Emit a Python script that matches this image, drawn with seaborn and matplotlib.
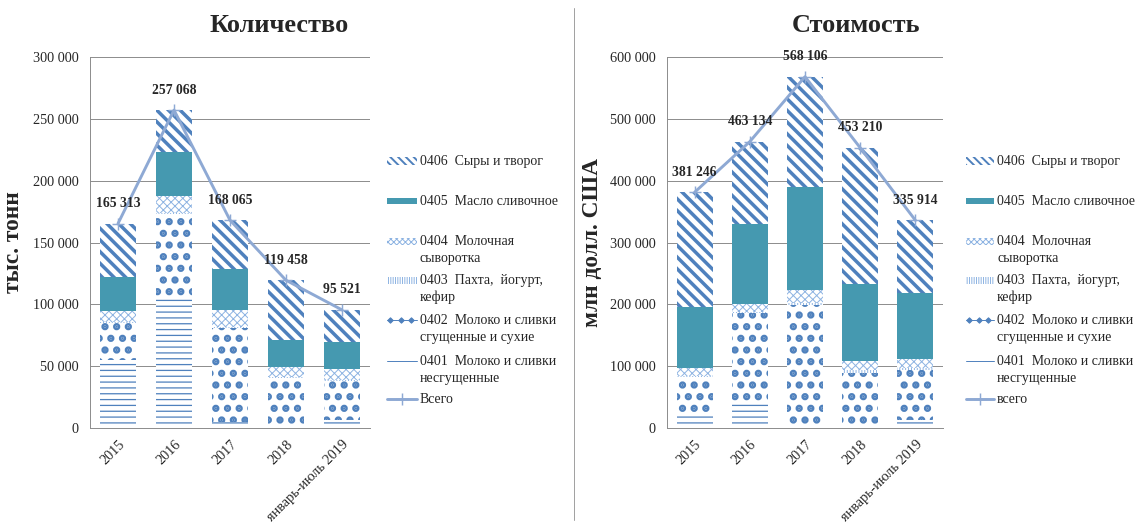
import matplotlib
matplotlib.use("Agg")
import matplotlib.pyplot as plt
import matplotlib as mpl
from matplotlib.patches import Rectangle
from matplotlib.lines import Line2D
from matplotlib.ticker import FuncFormatter, MultipleLocator
import seaborn as sns
import numpy as np

# ---------------- data ----------------
categories = ["2015", "2016", "2017", "2018", "январь-июль 2019"]

# Количество, тыс. тонн
qty_0401 = [54900, 104900, 5000, 1500, 6200]
qty_0402 = [30000, 68000, 76000, 39000, 31500]
qty_0403 = [1000, 1000, 1000, 800, 900]
qty_0404 = [8600, 13500, 13500, 8000, 9000]
qty_0405 = [27800, 35700, 33300, 22100, 22100]
qty_0406 = [43013, 33968, 39265, 48058, 25821]
qty_total = [165313, 257068, 168065, 119458, 95521]

# Стоимость, млн долл. США
val_0401 = [22000, 41400, 5000, 2000, 13400]
val_0402 = [60000, 145000, 194000, 87000, 80400]
val_0403 = [1500, 1800, 2600, 5000, 3000]
val_0404 = [13500, 12300, 21500, 15000, 14700]
val_0405 = [99400, 129000, 166700, 123700, 107500]
val_0406 = [184846, 133634, 178306, 220510, 116914]
val_total = [381246, 463134, 568106, 453210, 335914]

legend_labels_q = ["0406  Сыры и творог", "0405  Масло сливочное",
                   "0404  Молочная\nсыворотка", "0403  Пахта,  йогурт,\nкефир",
                   "0402  Молоко и сливки\nсгущенные и сухие",
                   "0401  Молоко и сливки\nнесгущенные", "Всего"]
legend_labels_v = ["0406  Сыры и творог", "0405  Масло сливочное",
                   "0404  Молочная\nсыворотка", "0403  Пахта,  йогурт,\nкефир",
                   "0402  Молоко и сливки\nсгущенные и сухие",
                   "0401  Молоко и сливки\nнесгущенные", "всего"]

# ---------------- style ----------------
sns.set_style("white")
plt.rcParams["font.family"] = ["Liberation Serif", "DejaVu Serif"]

DPI = 70
W, H = 1136, 523
BLUE = "#4F81BD"
TEAL = "#4599B0"
LIGHT = "#8DB3E2"
LINEC = "#8EA9D4"
GRID = "#8C8C8C"

fig = plt.figure(figsize=(W / DPI, H / DPI), dpi=DPI)


def px_axes(x0, x1, ytop, ybot):
    return fig.add_axes([x0 / W, 1 - ybot / H, (x1 - x0) / W, (ybot - ytop) / H])


layer_styles = [
    # (hatch, facecolor, edgecolor, hatch lw)
    ("--", "white", BLUE, 1.3),       # 0401
    (".", "white", BLUE, 5.0),        # 0402
    ("||||", "white", LIGHT, 1.0),    # 0403
    ("xxx", "white", LIGHT, 1.0),     # 0404
    (None, TEAL, TEAL, 0.0),          # 0405
    ("\\\\", "white", BLUE, 3.6),     # 0406
]


def stacked(ax, layers, totals, ymax, step, width):
    bottom = np.zeros(len(categories))
    for vals, (hatch, fc, ec, hlw) in zip(layers, layer_styles):
        n0 = len(ax.patches)
        with mpl.rc_context({"hatch.linewidth": hlw if hlw else 1.0}):
            sns.barplot(x=categories, y=vals, bottom=bottom, ax=ax, color=fc,
                        saturation=1, edgecolor=ec, linewidth=0, hatch=hatch,
                        width=width, errorbar=None, zorder=2)
        for p in ax.patches[n0:]:
            if hatch and hasattr(p, "set_hatch_linewidth"):
                p.set_hatch_linewidth(hlw)
        bottom = bottom + np.array(vals)
    xs = np.arange(len(categories))
    sns.lineplot(x=xs, y=totals, ax=ax, color=LINEC, lw=3, marker="+",
                 markersize=12, markeredgewidth=1.5, markeredgecolor=LINEC,
                 zorder=4, legend=False)
    for x, v in zip(xs, totals):
        ax.annotate(f"{v:,}".replace(",", " "), (x, v), xytext=(0, 20),
                    textcoords="offset pixels", ha="center", va="center",
                    fontsize=14, fontweight="bold", zorder=5)
    ax.set_xlim(-0.5, len(categories) - 0.5)
    ax.set_ylim(0, ymax)
    ax.yaxis.set_major_locator(MultipleLocator(step))
    ax.yaxis.set_major_formatter(FuncFormatter(lambda v, p: f"{int(v):,}".replace(",", " ")))
    ax.grid(axis="y", color=GRID, lw=1.0, zorder=0)
    ax.set_axisbelow(True)
    for s in ["top", "right"]:
        ax.spines[s].set_visible(False)
    for s in ["left", "bottom"]:
        ax.spines[s].set_color(GRID)
        ax.spines[s].set_linewidth(1.0)
    ax.tick_params(axis="y", labelsize=14.6, length=0, pad=12)
    ax.tick_params(axis="x", labelsize=14.6, length=0, pad=10)
    ax.set_xticks(xs)
    ax.set_xticklabels(categories, rotation=45, ha="right", rotation_mode="anchor")
    ax.set_xlabel("")


def legend(x_handle, x_text, ys, labels):
    hw = x_text - x_handle - 3
    handles = [
        ("hatch", "\\\\\\", "white", BLUE, 2.0, 8),
        ("solid", None, TEAL, TEAL, 0, 6),
        ("hatch", "xxxx", "white", LIGHT, 1.0, 7),
        ("hatch", "|||||", "white", LIGHT, 1.0, 7),
        ("diamond",),
        ("line",),
        ("total",),
    ]
    for y, lab, h in zip(ys, labels, handles):
        fy = 1 - y / H
        if h[0] in ("hatch", "solid"):
            _, hatch, fc, ec, hlw, hh = h
            with mpl.rc_context({"hatch.linewidth": hlw if hlw else 1.0}):
                r = Rectangle((x_handle / W, 1 - (y + hh / 2) / H), hw / W, hh / H,
                              transform=fig.transFigure, facecolor=fc,
                              edgecolor=ec, lw=0, hatch=hatch)
            if hatch and hasattr(r, "set_hatch_linewidth"):
                r.set_hatch_linewidth(hlw)
            fig.add_artist(r)
        elif h[0] == "diamond":
            fig.add_artist(Line2D([x_handle / W, (x_handle + hw) / W], [fy, fy],
                                  transform=fig.transFigure, color=BLUE, lw=1))
            fig.add_artist(Line2D([(x_handle + hw * f) / W for f in (0.1, 0.45, 0.8)],
                                  [fy] * 3, transform=fig.transFigure, color=BLUE,
                                  lw=0, marker="D", markersize=4))
        elif h[0] == "line":
            fig.add_artist(Line2D([x_handle / W, (x_handle + hw) / W], [fy, fy],
                                  transform=fig.transFigure, color=BLUE, lw=1))
        else:
            fig.add_artist(Line2D([x_handle / W, (x_handle + hw) / W], [fy, fy],
                                  transform=fig.transFigure, color=LINEC, lw=3))
            fig.add_artist(Line2D([(x_handle + hw / 2) / W], [fy],
                                  transform=fig.transFigure, color=LINEC, lw=0,
                                  marker="+", markersize=12, markeredgewidth=1.5))
        fig.text(x_text / W, 1 - (y - 6) / H, lab, ha="left", va="top",
                 fontsize=14.3, linespacing=1.38, transform=fig.transFigure)


# ---------------- left chart ----------------
ax1 = px_axes(90, 370, 57, 428)
stacked(ax1, [qty_0401, qty_0402, qty_0403, qty_0404, qty_0405, qty_0406],
        qty_total, 300000, 50000, 0.63)
ax1.set_ylabel("тыс. тонн", fontsize=24, fontweight="bold")
ax1.yaxis.set_label_coords(-0.236, 0.5)
fig.text(279 / W, 1 - 26 / H, "Количество", ha="center", va="center",
         fontsize=27, fontweight="bold")

# ---------------- right chart ----------------
ax2 = px_axes(667, 943, 57, 428)
stacked(ax2, [val_0401, val_0402, val_0403, val_0404, val_0405, val_0406],
        val_total, 600000, 100000, 0.65)
ax2.set_ylabel("млн долл. США", fontsize=24, fontweight="bold")
ax2.yaxis.set_label_coords(-0.232, 0.5)
fig.text(856 / W, 1 - 26 / H, "Стоимость", ha="center", va="center",
         fontsize=27, fontweight="bold")

# legends
ys = [161, 201, 241, 280, 320, 361, 399]
legend(387, 420, ys, legend_labels_q)
legend(966, 997, ys, legend_labels_v)

# divider
fig.add_artist(Line2D([574 / W, 574 / W], [1 - 8 / H, 1 - 520 / H],
                      transform=fig.transFigure, color="#A0A0A0", lw=1))

fig.savefig("out.png", dpi=DPI)
